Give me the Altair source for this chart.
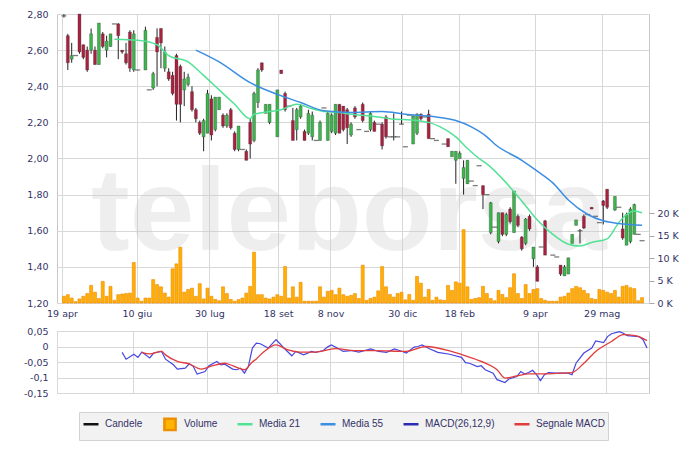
import json
import altair as alt
import pandas as pd

# ---------------- data ----------------
DATE_LABELS = ["19 apr", "10 giu", "30 lug", "18 set", "8 nov", "30 dic", "18 feb", "9 apr", "29 mag"]
DATE_POS = [-0.5, 18.8, 37.5, 55.2, 68.7, 87.2, 101.9, 121.4, 138.6]

OPEN = [2.79, 2.68, 2.55, 2.57, 2.80, 2.63, 2.60, 2.60, 2.60, 2.52,
        2.69, 2.60, 2.62, 2.745, 2.745, 2.60, 2.58, 2.70, 2.49, 2.49,
        None, 2.49, 2.38, 2.39, 2.67, 2.72, 2.50, 2.48, 2.46, 2.57,
        2.51, 2.38, 2.41, 2.37, 2.27, 2.20, 2.12, 2.14, 2.33, 2.16,
        2.27, 2.24, 2.18, 2.27, 2.14, 2.05, 2.05, 2.04, 2.20, 2.10,
        2.31, 2.53, 2.25, 2.20, None, 2.12, 2.49, 2.36, 2.29, 2.21,
        2.16, 2.23, 2.15, 2.14, 2.12, 2.10, 2.10, 2.28, 2.10, 2.15,
        2.14, 2.30, 2.29, 2.27, 2.13, 2.28, 2.16, 2.30, 2.15, 2.16,
        2.20, 2.19, 2.19, 2.23, 2.12, 2.12, 2.12, 2.19, 2.065, 2.24,
        2.08, 2.14, 2.245, 2.23, 2.245, 2.11, 2.10, None, 2.08, 2.11,
        2.01, 1.99, 2.00, 1.89, 1.86, 1.875, 1.85, 1.96, 1.85, 1.80,
        1.59, 1.62, 1.54, 1.70, 1.58, 1.72, 1.59, 1.68, 1.565, 1.53,
        1.68, 1.445, 1.40, 1.51, 1.655, None, 1.465, 1.455, 1.41, 1.35,
        1.36, 1.53, 1.63, 1.60, 1.68, 1.69, 1.73, 1.68, 1.645, 1.765,
        1.83, None, 1.715, 1.73, 1.61, 1.52, 1.54, 1.58, 1.58, 1.545]
HIGH = [2.80, 2.69, 2.64, 2.57, 2.80, 2.63, 2.62, 2.72, 2.62, 2.75,
        2.70, 2.68, 2.69, 2.745, 2.75, 2.60, 2.64, 2.71, 2.71, 2.49,
        None, 2.73, 2.38, 2.48, 2.72, 2.72, 2.62, 2.50, 2.48, 2.58,
        2.52, 2.48, 2.47, 2.40, 2.28, 2.21, 2.22, 2.38, 2.35, 2.34,
        2.34, 2.25, 2.25, 2.28, 2.15, 2.18, 2.05, 2.05, 2.22, 2.37,
        2.50, 2.53, 2.30, 2.30, None, 2.38, 2.49, 2.37, 2.29, 2.28,
        2.28, 2.30, 2.16, 2.27, 2.26, 2.10, 2.21, 2.28, 2.26, 2.25,
        2.30, 2.30, 2.29, 2.28, 2.20, 2.29, 2.16, 2.31, 2.15, 2.26,
        2.21, 2.19, 2.20, 2.24, 2.12, 2.25, 2.12, 2.26, 2.065, 2.24,
        2.24, 2.25, 2.25, 2.23, 2.27, 2.11, 2.10, None, 2.08, 2.11,
        2.04, 2.04, 2.04, 1.99, 1.99, 1.875, 1.85, 1.96, 1.85, 1.80,
        1.76, 1.62, 1.70, 1.70, 1.70, 1.73, 1.82, 1.69, 1.57, 1.67,
        1.69, 1.51, 1.41, 1.51, 1.66, None, 1.465, 1.455, 1.41, 1.41,
        1.45, 1.58, 1.66, 1.61, 1.69, 1.69, 1.73, 1.68, 1.645, 1.77,
        1.83, None, 1.79, 1.73, 1.70, 1.70, 1.73, 1.75, 1.58, 1.545]
LOW = [2.78, 2.49, 2.53, 2.57, 2.58, 2.55, 2.48, 2.58, 2.52, 2.52,
       2.61, 2.56, 2.62, 2.745, 2.55, 2.58, 2.52, 2.48, 2.48, 2.49,
       None, 2.49, 2.38, 2.38, 2.40, 2.50, 2.48, 2.43, 2.35, 2.21,
       2.20, 2.29, 2.40, 2.26, 2.20, 2.13, 2.04, 2.14, 2.10, 2.15,
       2.27, 2.17, 2.17, 2.16, 2.04, 2.04, 2.05, 1.99, 2.00, 2.09,
       2.28, 2.48, 2.25, 2.19, None, 2.12, 2.47, 2.26, 2.29, 2.10,
       2.10, 2.22, 2.10, 2.13, 2.10, 2.10, 2.10, 2.28, 2.10, 2.14,
       2.13, 2.14, 2.15, 2.08, 2.12, 2.22, 2.16, 2.20, 2.15, 2.15,
       2.15, 2.19, 2.05, 2.11, 2.12, 2.10, 2.12, 2.19, 2.065, 2.24,
       2.08, 2.13, 2.21, 2.23, 2.11, 2.11, 2.10, None, 2.08, 2.065,
       2.01, 1.86, 2.00, 1.80, 1.86, 1.875, 1.85, 1.96, 1.72, 1.80,
       1.58, 1.62, 1.53, 1.57, 1.57, 1.64, 1.59, 1.62, 1.49, 1.52,
       1.60, 1.40, 1.32, 1.51, 1.465, None, 1.465, 1.455, 1.35, 1.35,
       1.36, 1.53, 1.63, 1.53, 1.61, 1.69, 1.72, 1.68, 1.645, 1.635,
       1.72, None, 1.71, 1.73, 1.55, 1.52, 1.53, 1.58, 1.58, 1.545]
CLOSE = [2.79, 2.53, 2.57, 2.57, 2.59, 2.56, 2.49, 2.69, 2.52, 2.75,
         2.62, 2.65, 2.69, 2.745, 2.68, 2.59, 2.53, 2.50, 2.69, 2.49,
         None, 2.71, 2.38, 2.47, 2.59, 2.64, 2.59, 2.44, 2.36, 2.30,
         2.30, 2.44, 2.45, 2.27, 2.22, 2.14, 2.21, 2.36, 2.13, 2.34,
         2.34, 2.18, 2.24, 2.17, 2.05, 2.18, 2.05, 1.99, 2.08, 2.36,
         2.49, 2.49, 2.30, 2.30, None, 2.38, 2.47, 2.27, 2.29, 2.10,
         2.27, 2.29, 2.10, 2.25, 2.24, 2.10, 2.20, 2.28, 2.25, 2.24,
         2.30, 2.14, 2.16, 2.17, 2.19, 2.23, 2.16, 2.21, 2.15, 2.25,
         2.15, 2.19, 2.07, 2.12, 2.12, 2.12, 2.12, 2.19, 2.065, 2.24,
         2.235, 2.245, 2.22, 2.23, 2.11, 2.11, 2.10, None, 2.08, 2.065,
         2.04, 2.04, 2.03, 1.95, 1.99, 1.875, 1.85, 1.96, 1.80, 1.80,
         1.755, 1.62, 1.70, 1.58, 1.69, 1.65, 1.82, 1.63, 1.50, 1.665,
         1.61, 1.51, 1.32, 1.51, 1.465, None, 1.465, 1.455, 1.36, 1.40,
         1.45, 1.58, 1.66, 1.60, 1.615, 1.69, 1.72, 1.68, 1.645, 1.74,
         1.73, None, 1.79, 1.73, 1.56, 1.69, 1.72, 1.745, 1.58, 1.545]
VOLUME_K = [1.5, 1.85, 1.1, 0.3, 0.9, 1.5, 2.1, 3.9, 2.4, 1.0,
            4.8, 1.5, 3.7, 0.6, 1.85, 2.0, 2.1, 2.2, 9.0, 1.1,
            0.4, 1.1, 1.1, 5.2, 4.1, 3.6, 2.2, 1.3, 7.6, 8.7,
            12.4, 2.4, 3.0, 3.3, 1.5, 4.3, 0.9, 3.3, 1.5, 0.8,
            0.5, 3.6, 2.1, 0.8, 0.4, 0.75, 1.1, 2.2, 3.7, 11.3,
            1.85, 1.85, 1.1, 0.9, 1.3, 1.85, 1.5, 8.1, 1.1, 3.6,
            1.3, 4.6, 0.4, 0.4, 0.4, 0.4, 3.6, 1.3, 2.6, 2.8,
            1.85, 3.3, 1.85, 1.5, 1.7, 2.1, 1.0, 8.4, 0.6, 1.0,
            1.3, 2.7, 8.1, 3.6, 1.9, 1.3, 2.1, 2.4, 0.7, 1.9,
            0.6, 5.9, 4.4, 1.3, 3.0, 0.6, 1.3, 0.7, 0.6, 3.9,
            2.8, 4.7, 4.4, 16.3, 3.6, 0.8, 1.0, 1.2, 3.7, 2.1,
            1.0, 0.5, 2.8, 1.9, 1.2, 3.4, 6.5, 2.1, 1.0, 4.1,
            2.1, 3.0, 3.2, 1.0, 0.6, 0.4, 0.4, 0.4, 1.3, 1.5,
            2.2, 3.2, 3.7, 3.4, 2.8, 2.1, 1.0, 0.8, 3.0, 2.8,
            2.4, 2.1, 2.8, 1.3, 3.7, 3.9, 3.4, 3.2, 0.5, 1.2]

MA21_SLOT = [13, 19, 24, 27, 32, 36, 40, 44, 48, 49, 53, 56, 60, 64, 67, 71, 74, 79, 84, 91,
             94, 97, 101, 104, 107, 109, 114, 118, 122, 126, 130, 133, 136, 140, 143, 145, 147, 149]
MA21 = [2.66, 2.655, 2.63, 2.57, 2.535, 2.46, 2.38, 2.30, 2.22, 2.245, 2.26, 2.27, 2.30, 2.275,
        2.26, 2.255, 2.245, 2.235, 2.22, 2.21, 2.20, 2.175, 2.12, 2.055, 2.00, 1.97, 1.865, 1.765,
        1.66, 1.58, 1.525, 1.515, 1.535, 1.555, 1.645, 1.69, 1.71, 1.70]
MA55_SLOT = [34, 40, 48, 55, 61, 67, 74, 82, 88, 96, 101, 105, 109, 111, 118, 122, 126, 130,
             135, 139, 143, 149]
MA55 = [2.60, 2.535, 2.42, 2.355, 2.31, 2.265, 2.255, 2.26, 2.245, 2.23, 2.21, 2.175, 2.12, 2.08,
        1.99, 1.93, 1.865, 1.77, 1.69, 1.655, 1.64, 1.63]

MACD_SLOT = [16, 17, 19, 20, 21, 23, 24, 26, 27, 29, 30, 32, 33, 34, 35, 37, 38, 40, 41, 42,
             44, 45, 46, 47, 48, 49, 50, 51, 53, 55, 56, 57, 59, 60, 62, 64, 65, 67, 68, 69,
             71, 72, 74, 76, 79, 81, 83, 85, 87, 88, 90, 91, 92, 94, 96, 99, 102, 103, 104, 106,
             107, 108, 110, 111, 113, 114, 116, 117, 118, 119, 120, 121, 122, 123, 124, 126, 129, 130, 131, 133,
             135, 136, 138, 139, 140, 142, 143, 144, 147, 148, 149]
MACD = [-0.019, -0.041, -0.025, -0.035, -0.018, -0.037, -0.021, -0.016, -0.041, -0.059,
        -0.073, -0.070, -0.056, -0.064, -0.089, -0.081, -0.062, -0.048, -0.059, -0.057,
        -0.073, -0.075, -0.070, -0.086, -0.064, -0.005, 0.011, 0.009, -0.005, 0.022,
        0.009, -0.005, -0.030, -0.016, -0.027, -0.016, -0.019, -0.013, -0.002, 0.005,
        -0.008, -0.016, -0.013, -0.018, -0.008, -0.016, -0.019, -0.008, -0.016, -0.021,
        -0.002, 0.000, 0.005, -0.008, -0.019, -0.025, -0.035, -0.052, -0.054, -0.065,
        -0.062, -0.075, -0.086, -0.107, -0.116, -0.105, -0.097, -0.081, -0.089, -0.084,
        -0.077, -0.091, -0.110, -0.091, -0.084, -0.086, -0.086, -0.091, -0.054, -0.021,
        -0.005, 0.018, 0.013, 0.032, 0.041, 0.048, 0.043, 0.035, 0.032, 0.022, -0.005]
SIGNAL_SLOT = [21, 23, 26, 27, 30, 33, 36, 39, 42, 44, 47, 49, 50, 52, 55, 58, 61, 65, 70, 75,
               80, 88, 93, 99, 103, 107, 111, 113, 116, 119, 123, 127, 130, 133, 136, 140, 143, 146, 149]
SIGNAL = [-0.019, -0.024, -0.016, -0.027, -0.048, -0.056, -0.073, -0.062, -0.054, -0.062,
          -0.075, -0.050, -0.040, -0.016, 0.005, -0.011, -0.018, -0.018, -0.007, -0.013,
          -0.013, -0.016, 0.000, -0.014, -0.030, -0.048, -0.075, -0.102, -0.095, -0.088,
          -0.088, -0.086, -0.084, -0.054, -0.016, 0.016, 0.038, 0.035, 0.019]

SERIES = ["Candele", "Volume", "Media 21", "Media 55", "MACD(26,12,9)", "Segnale MACD"]
SERIES_COLORS = ["#111111", "#ffb400", "#52e295", "#3b8ee2", "#2b2bb5", "#e23b3b"]
SERIES_STROKES = ["#111111", "#ec9000", "#52e295", "#3b8ee2", "#2b2bb5", "#e23b3b"]

# legend symbol shapes: a line (with bounding points so every entry aligns) and a square
LINE_PATH = "M-1,-1M-1,1M-1,0L1,0"
SQUARE_PATH = "M-1,-1M-1,1M-0.75,-0.75L0.75,-0.75L0.75,0.75L-0.75,0.75Z"
SERIES_SHAPES = [LINE_PATH, SQUARE_PATH, LINE_PATH, LINE_PATH, LINE_PATH, LINE_PATH]

PRICE_TICKS = [1.2, 1.4, 1.6, 1.8, 2.0, 2.2, 2.4, 2.6, 2.8]
VOLUME_TICKS = [0, 5, 10, 15, 20]
MACD_TICKS = [-0.15, -0.1, -0.05, 0, 0.05]

# ---------------- tables ----------------
N = len(CLOSE)
candles = pd.DataFrame({"slot": list(range(N)), "open": OPEN, "high": HIGH,
                        "low": LOW, "close": CLOSE}).dropna()
candles["dir"] = ["up" if c > o else ("down" if c < o else "flat")
                  for o, c in zip(candles["open"], candles["close"])]
volume = pd.DataFrame({"slot": list(range(N)), "vol": VOLUME_K})
ma21 = pd.DataFrame({"slot": MA21_SLOT, "v": MA21})
ma55 = pd.DataFrame({"slot": MA55_SLOT, "v": MA55})
macd = pd.DataFrame({"slot": MACD_SLOT, "v": MACD})
signal = pd.DataFrame({"slot": SIGNAL_SLOT, "v": SIGNAL})
legend_df = pd.DataFrame({"serie": SERIES})

# ---------------- styling ----------------
AX_FONT = "DejaVu Sans"
LBL = "#333366"
W = 592
H_MAIN = 289
H_MACD = 62

xscale = alt.Scale(domain=[-0.5, N - 0.5], nice=False, zero=False)
date_expr = "%s[indexof(%s, datum.value)]" % (json.dumps(DATE_LABELS), json.dumps(DATE_POS))
x_axis_main = alt.Axis(values=DATE_POS, labelExpr=date_expr, grid=True, ticks=False, tickSize=0,
                       domain=False, labelPadding=5, title=None)
x_axis_macd = alt.Axis(values=DATE_POS, labels=False, grid=True, ticks=False, domain=False, title=None)

pscale = alt.Scale(domain=[1.2, 2.8], nice=False, zero=False)
p_axis = alt.Axis(values=PRICE_TICKS, labelExpr="replace(format(datum.value, '.2f'), '.', ',')",
                  grid=True, ticks=False, domain=False, labelPadding=9, title=None)

X = alt.X("slot:Q", scale=xscale, axis=x_axis_main)

watermark = alt.Chart(pd.DataFrame({"t": ["teleborsa"]})).mark_text(
    font="Liberation Sans", fontWeight="bold", fontSize=116,
    color="#c8c8c8", opacity=0.3, align="center", baseline="alphabetic"
).encode(text="t:N", x=alt.value(292), y=alt.value(236))

vol_layer = alt.Chart(volume).mark_bar(size=3, color="#ffb000", stroke="#ee8800", strokeWidth=0.6).encode(
    x=X,
    y=alt.Y("vol:Q", scale=alt.Scale(domain=[0, H_MAIN / 4.5], nice=False),
            axis=alt.Axis(orient="right", values=VOLUME_TICKS, labelExpr="datum.value + ' K'",
                          grid=False, ticks=True, tickSize=5, tickColor="#a8a8a8",
                          domain=False, labelPadding=3, title=None)),
)

wicks = alt.Chart(candles).mark_rule(color="#222222", strokeWidth=1).encode(
    x=X, y=alt.Y("low:Q", scale=pscale, axis=p_axis), y2="high:Q")
bodies = alt.Chart(candles).transform_filter("datum.dir != 'flat'").mark_bar(
    size=3, stroke="#333333", strokeWidth=0.5, strokeOpacity=0.6).encode(
    x=X, y=alt.Y("open:Q", scale=pscale, axis=p_axis), y2="close:Q",
    color=alt.Color("dir:N", scale=alt.Scale(domain=["up", "down"], range=["#3cb64c", "#a8213f"]),
                    legend=None))
dashes = alt.Chart(candles).transform_filter("datum.dir == 'flat'").mark_tick(
    orient="horizontal", size=5, thickness=1.3, color="#444444").encode(
    x=X, y=alt.Y("close:Q", scale=pscale, axis=p_axis))
line21 = alt.Chart(ma21).mark_line(color=SERIES_COLORS[2], strokeWidth=1.5, interpolate="monotone").encode(
    x=X, y=alt.Y("v:Q", scale=pscale, axis=p_axis))
line55 = alt.Chart(ma55).mark_line(color=SERIES_COLORS[3], strokeWidth=1.5, interpolate="monotone").encode(
    x=X, y=alt.Y("v:Q", scale=pscale, axis=p_axis))

price = alt.layer(wicks, bodies, dashes, line21, line55)
main = alt.layer(watermark, vol_layer, price).resolve_scale(y="independent").properties(
    width=W, height=H_MAIN)

# ---------------- MACD panel ----------------
XM = alt.X("slot:Q", scale=xscale, axis=x_axis_macd)
mscale = alt.Scale(domain=[-0.15, 0.05], nice=False, zero=False)
m_axis = alt.Axis(values=MACD_TICKS, labelExpr="replace('' + datum.value, '.', ',')",
                  grid=True, ticks=False, domain=False, labelPadding=9, title=None)

macd_line = alt.Chart(macd).mark_line(color="#4646e0", strokeWidth=1.2).encode(
    x=XM, y=alt.Y("v:Q", scale=mscale, axis=m_axis))
signal_line = alt.Chart(signal).mark_line(color=SERIES_COLORS[5], strokeWidth=1.3,
                                         interpolate="monotone").encode(
    x=XM, y=alt.Y("v:Q", scale=mscale, axis=m_axis))

leg = alt.Legend(title=None, orient="none", legendX=22, legendY=398, direction="horizontal",
                 fillColor="#f2f2f2", strokeColor="#d2d2d2", padding=3, columnPadding=14,
                 labelOffset=5, labelFont="Liberation Sans", labelFontSize=10, labelColor=LBL,
                 symbolSize=225, symbolStrokeWidth=2.5, symbolOpacity=1, cornerRadius=0)
legend_layer = alt.Chart(legend_df).mark_point(filled=True, clip=True).encode(
    x=alt.value(10), y=alt.value(-500),
    fill=alt.Fill("serie:N", scale=alt.Scale(domain=SERIES, range=SERIES_COLORS), legend=leg),
    stroke=alt.Stroke("serie:N", scale=alt.Scale(domain=SERIES, range=SERIES_STROKES), legend=leg),
    shape=alt.Shape("serie:N", scale=alt.Scale(domain=SERIES, range=SERIES_SHAPES), legend=leg),
)

macd_panel = alt.layer(macd_line, signal_line, legend_layer).properties(width=W, height=H_MACD)

chart = alt.vconcat(main, macd_panel, spacing=7).properties(
    padding={"left": 14, "top": 0, "right": 5, "bottom": 5}
).configure_view(stroke="#c8c8c8", strokeWidth=1).configure_axis(
    gridColor="#d8d8d8", gridWidth=1, labelFont=AX_FONT, labelFontSize=9.5, labelColor=LBL
)

chart.save("out.html", embed_options={"renderer": "svg", "actions": False})
